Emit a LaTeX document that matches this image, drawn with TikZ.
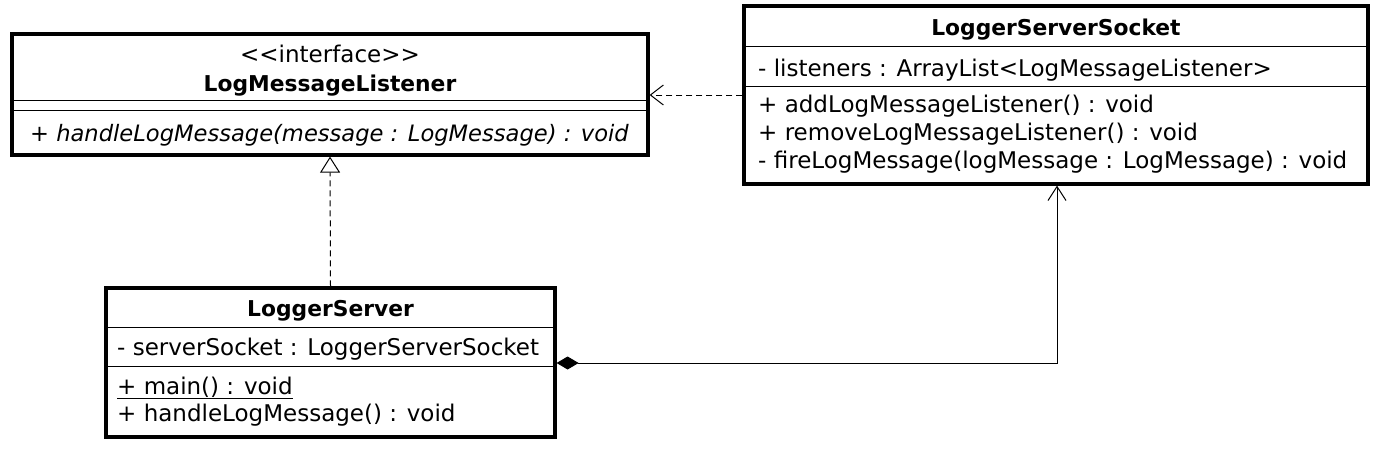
\documentclass[tikz,border=0pt]{standalone}
\usepackage{fontspec}
\setmainfont{DejaVu Sans}[Ligatures=TeXOff]
\usetikzlibrary{arrows.meta}
\tikzset{
  box/.style={draw=black, line width=3.2pt, fill=white, inner sep=0pt},
  divider/.style={line width=1pt},
  txt/.style={anchor=base west, inner sep=0pt, font=\fontsize{23}{27}\selectfont},
  ctxt/.style={anchor=base, inner sep=0pt, font=\fontsize{23}{27}\selectfont},
  bname/.style={anchor=base, inner sep=0pt, font=\fontsize{21.8}{26}\selectfont\bfseries},
  conn/.style={line width=1pt},
  dashedconn/.style={line width=1pt, dash pattern=on 6pt off 4pt},
}
\begin{document}
\begin{tikzpicture}[x=1pt, y=-1pt]
\useasboundingbox (0,0) rectangle (1378,452);
% LogMessageListener
\node[box, minimum width=636pt, minimum height=121pt] (lml) at (330,94.5) {};
\node[ctxt] (lmlst) at (330,62.5) {<<interface>>};
\node[bname] (lmlname) at (330,91) {LogMessageListener};
\draw[divider] (12,100) -- (648,100);
\draw[divider] (12,110) -- (648,110);
\node[txt, font=\fontsize{22.6}{27}\selectfont\itshape] (lmlm1) at (30,141) {+ handleLogMessage(message : LogMessage) : void};
% LoggerServerSocket
\node[box, minimum width=624pt, minimum height=178pt] (lss) at (1056,95) {};
\node[bname] (lssname) at (1056,36) {LoggerServerSocket};
\draw[divider] (744,47) -- (1368,47);
\node[txt] (lssa1) at (758,76) {- listeners : ArrayList<LogMessageListener>};
\draw[divider] (744,86) -- (1368,86);
\node[txt] (lssm1) at (758,112) {+ addLogMessageListener() : void};
\node[txt] (lssm2) at (758,140) {+ removeLogMessageListener() : void};
\node[txt] (lssm3) at (758,168) {- fireLogMessage(logMessage : LogMessage) : void};
% LoggerServer
\node[box, minimum width=449pt, minimum height=149pt] (ls) at (330.5,362.5) {};
\node[bname] (lsname) at (330.5,316) {LoggerServer};
\draw[divider] (106,327) -- (555,327);
\node[txt] (lsa1) at (117,355) {- serverSocket : LoggerServerSocket};
\draw[divider] (106,366) -- (555,366);
\node[txt] (lsm1) at (117,394) {\underline{+ main() : void}};
\node[txt] (lsm2) at (117,421) {+ handleLogMessage() : void};
% connectors
\draw[dashedconn, -{Straight Barb[length=13pt,width=20pt,line width=1pt]}] (lss.west |- 0,95) -- (lml.east |- 0,95);
\draw[dashedconn, -{Triangle[open,length=16pt,width=20pt,line width=1pt,fill=white]}] (ls.north) -- (lml.south);
\coordinate (bend) at (1057,363);
\draw[conn, {Diamond[length=22pt,width=13pt]}-{Straight Barb[length=14pt,width=18pt,line width=1pt]}] (ls.east |- 0,363) -- (bend) -- (bend |- lss.south);
\end{tikzpicture}
\end{document}
